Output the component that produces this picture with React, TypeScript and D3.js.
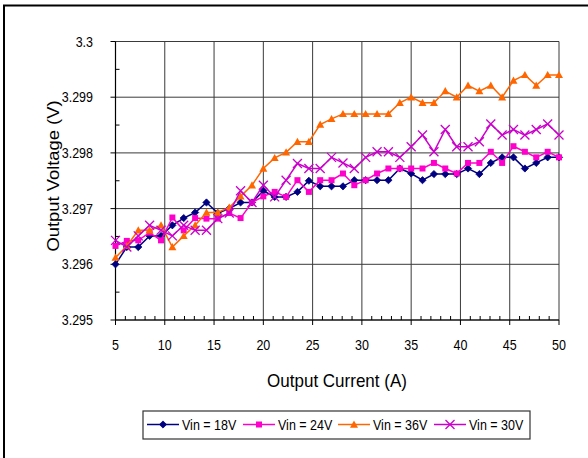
import React from "react";
import * as d3 from "d3";

const currents = [5, 6.15, 7.31, 8.46, 9.62, 10.77, 11.92, 13.08, 14.23, 15.38, 16.54, 17.69, 18.85, 20, 21.15, 22.31, 23.46, 24.62, 25.77, 26.92, 28.08, 29.23, 30.38, 31.54, 32.69, 33.85, 35, 36.15, 37.31, 38.46, 39.62, 40.77, 41.92, 43.08, 44.23, 45.38, 46.54, 47.69, 48.85, 50];

const vin18 = [3.296, 3.29631, 3.29631, 3.29651, 3.29651, 3.2967, 3.29683, 3.29693, 3.29711, 3.29692, 3.297, 3.29711, 3.29711, 3.29732, 3.29721, 3.29721, 3.2973, 3.2975, 3.2974, 3.2974, 3.2974, 3.29751, 3.29751, 3.29751, 3.29751, 3.29772, 3.29763, 3.29751, 3.29762, 3.29762, 3.29762, 3.29772, 3.29762, 3.29782, 3.29792, 3.29792, 3.29772, 3.29782, 3.29792, 3.29792];
const vin24 = [3.29633, 3.29642, 3.29643, 3.29657, 3.29643, 3.29684, 3.29661, 3.29683, 3.29682, 3.29682, 3.29692, 3.29683, 3.29711, 3.29722, 3.2973, 3.29721, 3.29751, 3.2973, 3.29751, 3.29751, 3.29763, 3.29742, 3.29751, 3.29763, 3.29772, 3.29772, 3.29772, 3.29772, 3.29782, 3.29772, 3.29763, 3.29782, 3.29782, 3.29802, 3.29782, 3.29812, 3.29802, 3.29792, 3.29802, 3.29792];
const vin36 = [3.29612, 3.29633, 3.29661, 3.29661, 3.2967, 3.29631, 3.29651, 3.2967, 3.29693, 3.29693, 3.29702, 3.29722, 3.29742, 3.29772, 3.29791, 3.29801, 3.2982, 3.2982, 3.29851, 3.29861, 3.2987, 3.2987, 3.2987, 3.2987, 3.2987, 3.2989, 3.299, 3.2989, 3.2989, 3.29911, 3.299, 3.29921, 3.29911, 3.29921, 3.299, 3.2993, 3.2994, 3.29921, 3.2994, 3.2994];
const vin30 = [3.29643, 3.29631, 3.29651, 3.2967, 3.29661, 3.29651, 3.2967, 3.29661, 3.29661, 3.29682, 3.29692, 3.29732, 3.29711, 3.29742, 3.29721, 3.29751, 3.29781, 3.29772, 3.29772, 3.29792, 3.29782, 3.29772, 3.29792, 3.29802, 3.29802, 3.29792, 3.29811, 3.29832, 3.29802, 3.29842, 3.29811, 3.29811, 3.2982, 3.29852, 3.29832, 3.29842, 3.29832, 3.29842, 3.29852, 3.29832];

const xTicks = [5, 10, 15, 20, 25, 30, 35, 40, 45, 50];
const yTicks = [3.295, 3.296, 3.297, 3.298, 3.299, 3.3];
const yTickLabels = ["3.295", "3.296", "3.297", "3.298", "3.299", "3.3"];

const seriesNames = ["Vin = 18V", "Vin = 24V", "Vin = 36V", "Vin = 30V"];
const seriesData = [vin18, vin24, vin36, vin30];
const seriesColors = ["#000080", "#FF00CC", "#FF6600", "#CC00CC"];
const seriesMarkers = ["diamond", "square", "triangle", "x"];

const FONT = "'Liberation Sans', Arial, sans-serif";
const SY = 1.1;

function Marker({ type, x, y, color }: { type: string; x: number; y: number; color: string }) {
  if (type === "diamond") {
    const s = 3.6;
    return <path d={`M${x},${y - s}L${x + s},${y}L${x},${y + s}L${x - s},${y}Z`} fill={color} stroke={color} strokeWidth={0.8} />;
  }
  if (type === "square") {
    const s = 3;
    return <rect x={x - s} y={y - s} width={2 * s} height={2 * s} fill={color} />;
  }
  if (type === "triangle") {
    const s = 4;
    return <path d={`M${x},${y - s}L${x + s},${y + s * 0.8}L${x - s},${y + s * 0.8}Z`} fill={color} />;
  }
  const s = 4.5;
  return (
    <path d={`M${x - s},${y - s}L${x + s},${y + s}M${x - s},${y + s}L${x + s},${y - s}`} stroke={color} strokeWidth={1.3} fill="none" />
  );
}

function T({ x, y, anchor, size, children }: { x: number; y: number; anchor?: string; size: number; children: React.ReactNode }) {
  return (
    <text transform={`translate(${x},${y}) scale(1,${SY})`} textAnchor={anchor || "start"} fontSize={size} fill="#000">
      {children}
    </text>
  );
}

export default function App() {
  const W = 588, H = 458;
  const x = d3.scaleLinear().domain([5, 50]).range([115.5, 559]);
  const y = d3.scaleLinear().domain([3.295, 3.3]).range([320, 41.5]);
  const line = d3.line<number>().x((_, i) => x(currents[i])).y((d) => y(d));

  const xMinor = d3.range(6, 50).filter((v) => v % 5 !== 0);
  const yMinor = d3.range(0, 5).map((i) => 3.2955 + i * 0.001);

  const legendItems = [
    { x1: 147, tx: 182 },
    { x1: 243, tx: 278 },
    { x1: 338, tx: 373 },
    { x1: 434, tx: 469 },
  ];

  return (
    <svg width={W} height={H} style={{ position: "absolute", left: 0, top: 0, background: "#fff" }} fontFamily={FONT}>
      <rect x={0} y={0} width={W} height={H} fill="#fff" />
      <rect x={4} y={5.5} width={W + 10} height={H + 10} fill="none" stroke="#000" strokeWidth={2} />

      {/* gridlines */}
      {yTicks.map((t) => (
        <line key={"gy" + t} x1={x(5)} x2={x(50)} y1={y(t)} y2={y(t)} stroke="#3a3a3a" strokeWidth={1} />
      ))}
      {xTicks.map((t) => (
        <line key={"gx" + t} x1={x(t)} x2={x(t)} y1={y(3.3)} y2={y(3.295)} stroke="#3a3a3a" strokeWidth={1} />
      ))}

      {/* axes */}
      <line x1={x(5)} x2={x(50)} y1={y(3.295)} y2={y(3.295)} stroke="#000" strokeWidth={1.2} />
      <line x1={x(5)} x2={x(5)} y1={y(3.3)} y2={y(3.295)} stroke="#000" strokeWidth={1.2} />
      {xTicks.map((t) => (
        <line key={"xt" + t} x1={x(t)} x2={x(t)} y1={y(3.295)} y2={y(3.295) + 5} stroke="#000" />
      ))}
      {xMinor.map((t) => (
        <line key={"xm" + t} x1={x(t)} x2={x(t)} y1={y(3.295)} y2={y(3.295) - 4} stroke="#000" />
      ))}
      {yTicks.map((t) => (
        <line key={"yt" + t} x1={x(5) - 5} x2={x(5)} y1={y(t)} y2={y(t)} stroke="#000" />
      ))}
      {yMinor.map((t) => (
        <line key={"ym" + t} x1={x(5)} x2={x(5) + 4} y1={y(t)} y2={y(t)} stroke="#000" />
      ))}

      {/* tick labels */}
      {xTicks.map((t) => (
        <T key={"xl" + t} x={x(t)} y={350} anchor="middle" size={12.5}>
          {t}
        </T>
      ))}
      {yTicks.map((t, i) => (
        <T key={"yl" + t} x={93} y={y(t) + 5} anchor="end" size={12.5}>
          {yTickLabels[i]}
        </T>
      ))}

      {/* axis titles */}
      <T x={337} y={387} anchor="middle" size={17}>
        Output Current (A)
      </T>
      <text transform={`translate(59,176) rotate(-90) scale(1.08,1)`} textAnchor="middle" fontSize={17} fill="#000">
        Output Voltage (V)
      </text>

      {/* series */}
      {seriesData.map((data, si) => (
        <g key={"s" + si}>
          <path d={line(data) || ""} fill="none" stroke={seriesColors[si]} strokeWidth={1.5} />
          {data.map((v, i) => (
            <Marker key={i} type={seriesMarkers[si]} x={x(currents[i])} y={y(v)} color={seriesColors[si]} />
          ))}
        </g>
      ))}

      {/* legend */}
      <rect x={143} y={411} width={387} height={28} fill="#fff" stroke="#333" strokeWidth={1.2} />
      {seriesNames.map((name, si) => (
        <g key={"lg" + si}>
          <line x1={legendItems[si].x1} x2={legendItems[si].x1 + 32} y1={424.5} y2={424.5} stroke={seriesColors[si]} strokeWidth={1.5} />
          <Marker type={seriesMarkers[si]} x={legendItems[si].x1 + 16} y={424.5} color={seriesColors[si]} />
          <T x={legendItems[si].tx} y={429.5} size={12.5}>
            {name}
          </T>
        </g>
      ))}
    </svg>
  );
}
